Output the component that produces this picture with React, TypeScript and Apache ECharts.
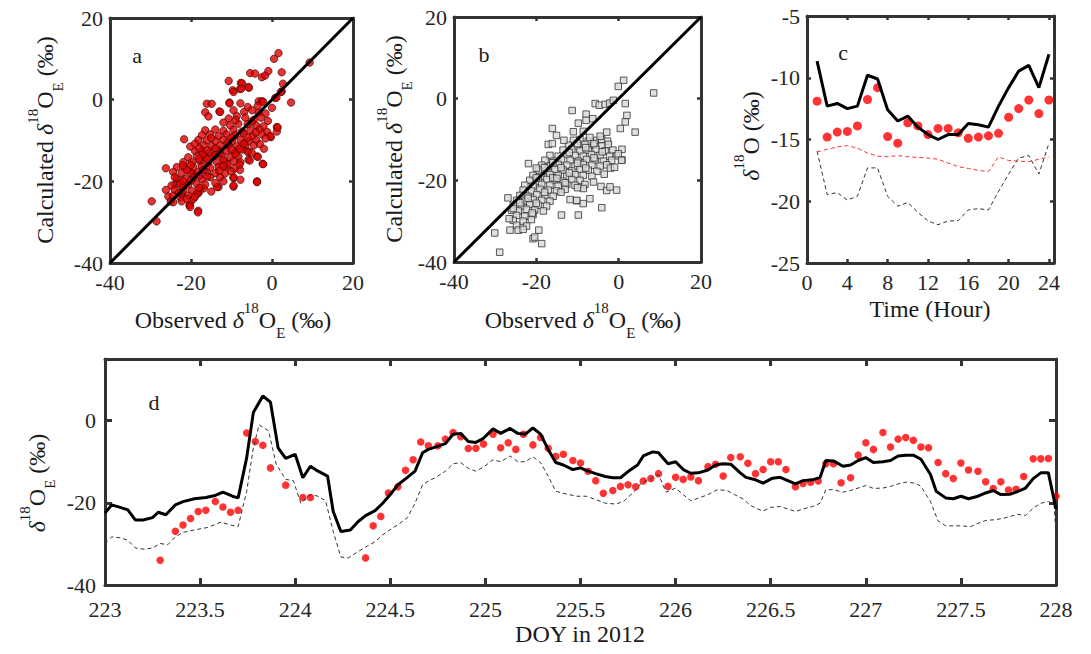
import React, { useEffect, useRef } from "react";
import * as echarts from "echarts";

const SERIF = "Liberation Serif";

// ---------- Panel a: observed vs calculated (model 1) ----------
const scatterA: number[][] = [
  [-29.7,-24.9],[-28.5,-29.8],[-26.2,-16.8],[-26.2,-22.1],[-25.6,-23.7],[-25.0,-24.9],[-23.9,-20.8],[-22.3,-22.9],[-21.7,-9.7],[-20.4,-25.9],
  [-18.2,-27.2],[-16.1,-1.0],[-14.9,-1.0],[-16.5,-3.1],[-15.7,-4.1],[-13.0,-2.9],[-10.7,4.6],[-10.5,-0.7],[-9.5,-19.2],[-9.5,-21.3],
  [-9.7,2.3],[-7.7,4.1],[-7.9,2.6],[-5.8,3.1],[-5.4,6.5],[-4.2,6.4],[-5.8,-12.7],[-5.8,-14.7],[-3.7,-20.0],[-3.7,-13.9],
  [-3.3,-0.4],[-2.5,5.5],[-1.7,5.9],[-0.9,7.0],[-2.3,-15.7],[-0.3,-9.2],[1.2,-6.7],[1.2,-7.8],[0.5,10.0],[1.6,11.4],
  [2.4,6.7],[2.4,2.0],[2.7,3.9],[0.8,0.4],[4.7,-0.7],[9.3,9.1],[-13.2,-21.4],[-16.8,-21.7],[-18.2,-22.9],[-19.6,-18.0],
  [-7.9,-17.2],[-7.4,4.0],[-9.5,1.9],[-7.6,2.7],[-5.7,2.9],[2.2,1.9],[1.1,0.5],[-2.5,-0.4],
  [-10.5,-0.9],[-7.8,-0.9],[-6.0,-1.8],[-3.5,-1.5],[-2.2,-0.5],
  [-12.8,-3.0],[-9.5,-2.6],[-6.9,-3.0],[-4.9,-2.6],[-3.3,-3.2],[-1.6,-3.4],
  [-10.7,-4.6],[-8.7,-4.0],[-6.6,-4.4],[-4.5,-4.9],[-2.7,-4.4],
  [-10.3,-6.3],[-8.3,-5.9],[-6.0,-6.0],[-3.9,-6.3],[-2.1,-6.5],
  [-16.5,-7.5],[-14.0,-7.3],[-12.0,-7.6],[-9.5,-7.4],[-7.4,-7.8],[-5.4,-7.5],[-3.1,-7.3],[-1.2,-7.9],[1.4,-6.8],
  [-17.3,-8.7],[-15.3,-8.5],[-13.2,-8.9],[-11.2,-8.5],[-9.1,-8.7],[-7.0,-8.3],[-4.7,-8.9],[-2.5,-8.5],[-0.4,-8.9],
  [-18.2,-9.9],[-16.1,-10.0],[-14.0,-10.1],[-12.0,-9.8],[-9.9,-10.1],[-7.8,-9.8],[-5.8,-10.2],[-3.9,-9.9],[-1.6,-9.5],
  [-20.2,-11.5],[-16.9,-11.2],[-14.9,-11.4],[-12.8,-11.2],[-10.7,-11.2],[-8.7,-11.4],[-6.6,-11.2],[-4.5,-11.2],
  [-19.0,-12.6],[-17.3,-12.6],[-15.3,-12.8],[-13.2,-12.4],[-11.2,-12.6],[-9.1,-12.8],[-7.2,-12.2],[-6.0,-12.8],
  [-20.7,-14.1],[-18.6,-13.9],[-16.5,-14.1],[-14.5,-13.9],[-12.4,-13.7],[-10.3,-14.1],[-8.3,-13.9],[-5.5,-14.9],[-3.5,-14.0],
  [-21.9,-15.3],[-19.8,-15.3],[-17.8,-15.1],[-15.7,-15.5],[-13.6,-15.3],[-11.6,-15.3],[-9.5,-15.1],[-7.8,-15.3],[-2.2,-15.8],
  [-23.5,-16.5],[-21.5,-16.7],[-19.4,-16.5],[-17.3,-16.3],[-15.3,-16.7],[-13.2,-16.5],[-11.2,-16.5],[-9.3,-16.9],
  [-24.4,-17.7],[-22.3,-18.0],[-20.2,-18.0],[-18.2,-17.7],[-16.1,-17.7],[-14.0,-18.0],[-11.6,-18.1],[-9.5,-19.0],
  [-23.5,-19.4],[-21.5,-19.4],[-19.4,-19.1],[-17.3,-19.4],[-15.3,-19.0],[-12.8,-19.0],[-7.8,-19.6],[-3.7,-20.2],
  [-24.8,-21.0],[-22.7,-20.6],[-20.7,-20.8],[-18.6,-20.6],[-16.5,-20.8],[-9.5,-21.0],
  [-24.0,-22.1],[-21.9,-22.1],[-19.8,-22.3],[-17.8,-22.3],[-13.6,-21.4],
  [-24.4,-23.5],[-22.7,-23.9],[-20.7,-23.5],[-18.6,-23.1],
  [-24.4,-25.1],[-22.3,-24.9],[-20.2,-25.5],[-19.4,-24.3],[-20.2,-26.3],[-18.3,-27.6],
  [-19,-10.8],[-15,-9.4],[-11,-10.6],[-7,-10.8],[-3,-10.9],[-17,-13.3],[-13,-13.1],[-9,-13.3],[-5,-13.0],[-21,-17.2],
  [-17,-17.2],[-13,-17.4],[-10,-17.6],[-22,-21.3],[-18,-21.6],[-14,-20.4],[-12,-20.0],[-23,-22.8],[-19,-23.8],[-16,-14.6],
  [-12,-14.8],[-8,-12.0],[-4,-8.0],[-6,-9.3],[-10,-9.3],[-14,-12.0],[-18,-14.5],[-20,-16.0],[-16,-18.8],[-22,-19.9],
  [-21,-24.3],[-15,-22.5],[-11,-15.9],[-2,-12.0],[-1,-5.2],[0,-2.0],[-5,-5.4],[-9,-5.0],[-12,-5.6],
  [-18,-11.9],[-14,-13.6],[-10,-12.2],[-16,-12.4],[-12,-16.2],[-8,-15.9],[-20,-19.8],[-18,-18.6],[-22,-16.1],[-24,-19.0]
];

// ---------- Panel b: observed vs calculated (model 2) ----------
const scatterB: number[][] = [
  [-11.0,-10.2],[-9.4,-10.0],[-7.4,-10.4],[-5.3,-10.2],[-4.1,-10.0],[-2.7,-10.4],
  [-12.2,-11.4],[-10.2,-11.6],[-8.2,-11.2],[-6.1,-11.4],[-4.1,-11.6],[-2.5,-11.2],
  [-13.5,-12.6],[-11.4,-12.4],[-9.4,-12.8],[-7.4,-12.6],[-5.5,-12.4],[-3.3,-12.8],[-1.4,-12.6],[0.8,-12.4],
  [-16.7,-13.9],[-14.7,-14.1],[-12.6,-13.7],[-10.6,-13.9],[-8.6,-14.1],[-6.6,-13.7],[-4.5,-13.9],[-2.2,-14.1],[-0.5,-14.0],
  [-17.9,-15.1],[-15.9,-15.3],[-13.9,-14.9],[-11.8,-15.1],[-9.8,-15.3],[-7.8,-14.9],[-5.7,-15.1],[-3.7,-15.3],[-1.7,-15.1],[0.8,-15.0],
  [-18.7,-16.3],[-16.7,-16.5],[-14.7,-16.1],[-12.6,-16.3],[-10.6,-16.5],[-8.6,-16.1],[-6.5,-16.3],[-4.5,-16.5],[-2.9,-16.2],
  [-19.5,-17.5],[-17.5,-17.7],[-15.5,-17.3],[-13.5,-17.5],[-11.4,-17.7],[-9.4,-17.3],[-7.4,-17.5],[-5.3,-17.8],
  [-20.8,-18.8],[-18.7,-19.0],[-16.7,-18.6],[-14.7,-18.8],[-12.6,-19.0],[-10.6,-18.6],[-8.6,-18.8],[-6.5,-19.0],
  [-21.6,-20.0],[-19.5,-20.2],[-17.5,-19.8],[-15.5,-20.0],[-13.5,-20.2],[-11.4,-19.8],[-9.4,-20.0],[-6.1,-20.4],
  [-22.8,-21.2],[-20.8,-21.4],[-18.7,-21.0],[-16.7,-21.2],[-14.7,-21.4],[-12.6,-21.0],[-10.6,-21.2],[-8.2,-21.0],[-4.3,-21.5],[-2.9,-22.5],
  [-23.2,-22.4],[-21.2,-22.6],[-19.1,-22.2],[-17.1,-22.4],[-15.1,-22.6],[-13.0,-22.2],[-8.6,-22.0],
  [-24.0,-23.7],[-22.0,-23.9],[-19.9,-23.5],[-17.9,-23.7],[-15.9,-23.9],[-11.8,-24.7],[-10.2,-25.0],
  [-24.8,-24.9],[-22.8,-25.1],[-20.8,-24.7],[-18.7,-24.9],[-16.7,-25.1],[-8.6,-25.7],
  [-25.6,-26.1],[-23.6,-26.3],[-21.6,-25.9],[-19.5,-26.1],[-17.5,-26.3],[-13.9,-28.5],[-9.8,-28.5],[-4.1,-26.7],
  [-26.0,-27.3],[-24.4,-27.5],[-22.4,-27.1],[-20.4,-27.3],[-18.3,-27.5],
  [-24.8,-28.6],[-22.8,-28.8],[-20.8,-28.4],[-25.6,-29.8],[-23.2,-30.0],[-21.2,-29.6],
  [-24.8,-31.0],[-22.4,-31.2],[-24.4,-32.2],[-23.2,-32.0],[-20.8,-34.3],[-18.7,-35.5],
  [1.2,4.5],[-0.1,3.0],[8.5,1.4],[-5.7,-1.2],[-4.7,-1.6],[-3.3,-1.4],[-2.2,-1.1],[-1.3,-0.4],[1.6,-1.2],[2.0,-4.1],
  [1.6,-5.7],[0.4,-7.3],[4.0,-8.2],[-11.3,-2.9],[-7.9,-3.8],[-6.3,-4.9],[-9.8,-6.0],[-7.9,-5.3],[-16.1,-7.3],[-15.1,-9.0],
  [-11.0,-8.1],[-8.6,-8.0],[-13.3,-10.2],[-17.1,-11.2],[-16.1,-11.0],[-2.9,-8.2],[-7.0,-9.5],[-4.5,-9.2],[-21.9,-15.9],
  [-30.1,-32.9],[-28.9,-37.6],[-26.9,-24.3],[-26.6,-29.4],[-26.4,-32.2],[-25.6,-26.9],[-20.4,-33.9],[-19.4,-32.2],
  [-10.2,-24.9],[-7.0,-24.5],[-0.5,-22.4],[-2.1,-21.6],[-0.1,-13.5],[0.7,-15.1],[-2.0,-17.0],[-1.0,-16.8],[-3.5,-18.5],
  [-20,-19.4],[-16,-19.4],[-12,-18.2],[-8,-17.0],[-18,-22.9],[-14,-22.9],[-22,-24.4],[-20,-25.6],[-18,-16.9],[-14,-16.9],
  [-10,-15.8],[-6,-14.5],[-12,-13.2],[-8,-12.0],[-4,-13.0],[-16,-15.7],[-20,-17.0],[-24,-25.5],[-21,-28.0],[-13,-20.6],
  [-10,-21.8],[-6,-11.0],[-10,-11.0],[-15,-19.5]
];
const oneToOne: number[][] = [[-40,-40],[20,20]];

// ---------- Panel c: diurnal composite ----------
const cHours = [1,2,3,4,5,6,7,8,9,10,11,12,13,14,15,16,17,18,19,20,21,22,23,24];
const cCalculated = [-8.65,-12.3,-12.08,-12.5,-12.3,-9.8,-10.1,-12.6,-13.5,-13.1,-14.0,-14.6,-15.0,-14.6,-14.6,-13.7,-13.8,-14.0,-12.3,-10.8,-9.46,-9.0,-10.8,-8.1];
const cObserved = [-11.9,-14.8,-14.4,-14.35,-13.9,-11.76,-10.8,-14.76,-15.3,-13.65,-13.9,-14.6,-14.1,-14.1,-14.46,-14.9,-14.8,-14.7,-14.5,-13.2,-12.5,-11.8,-12.9,-11.8];
const cRedDashed = [-16.0,-15.8,-15.6,-15.5,-15.7,-16.1,-16.35,-16.4,-16.3,-16.4,-16.45,-16.5,-16.6,-16.9,-17.2,-17.35,-17.5,-17.6,-16.4,-16.7,-16.75,-16.8,-16.6,-16.4];
const cBlackDashed = [-15.95,-19.46,-19.3,-19.9,-19.6,-17.3,-17.3,-19.6,-20.4,-20.1,-20.9,-21.6,-21.9,-21.6,-21.57,-20.7,-20.6,-20.7,-19.2,-17.8,-16.5,-16.3,-17.8,-15.3];
const cTicks = [0,4,8,12,16,20,24];

// ---------- Panel d: time series ----------
const dCalculated: number[][] = [
  [223.0,-22.5],[223.035,-20.5],[223.08,-21.1],[223.12,-21.7],[223.16,-24.2],[223.2,-24.2],[223.25,-23.6],[223.28,-22.3],[223.32,-22.9],[223.37,-20.5],
  [223.41,-19.7],[223.47,-19.0],[223.53,-18.7],[223.58,-18.2],[223.62,-17.4],[223.67,-18.4],[223.70,-18.8],[223.745,-9.0],[223.78,2.0],[223.83,6.0],
  [223.87,4.5],[223.91,-6.6],[223.95,-9.2],[224.0,-8.2],[224.04,-13.9],[224.08,-11.1],[224.12,-12.3],[224.17,-13.5],[224.2,-22.1],[224.24,-27.0],
  [224.29,-26.6],[224.33,-24.6],[224.37,-23.1],[224.42,-21.9],[224.46,-20.1],[224.5,-18.0],[224.54,-15.6],[224.59,-13.8],[224.63,-12.3],[224.67,-7.8],
  [224.70,-7.0],[224.74,-6.4],[224.79,-5.6],[224.83,-3.3],[224.87,-3.1],[224.91,-5.1],[224.95,-5.3],[224.99,-4.3],[225.04,-2.0],[225.08,-3.1],
  [225.13,-1.9],[225.17,-3.1],[225.21,-3.3],[225.25,-1.8],[225.29,-3.3],[225.33,-7.0],[225.37,-10.2],[225.41,-10.8],[225.46,-11.9],[225.5,-11.5],
  [225.54,-12.3],[225.58,-12.9],[225.63,-13.6],[225.67,-13.9],[225.71,-13.9],[225.75,-12.4],[225.80,-10.8],[225.83,-8.6],[225.88,-7.6],[225.91,-7.8],
  [225.96,-10.5],[226.0,-10.0],[226.04,-11.9],[226.08,-12.8],[226.12,-12.7],[226.17,-12.0],[226.21,-10.8],[226.25,-10.5],[226.29,-10.6],[226.34,-12.7],
  [226.37,-13.8],[226.42,-14.4],[226.46,-15.2],[226.51,-14.0],[226.55,-13.8],[226.59,-14.6],[226.63,-15.4],[226.67,-14.6],[226.72,-14.4],[226.76,-13.8],
  [226.79,-9.7],[226.83,-9.8],[226.88,-11.1],[226.92,-10.8],[226.96,-9.7],[227.0,-9.0],[227.04,-10.2],[227.09,-10.0],[227.13,-9.7],[227.17,-8.6],
  [227.21,-8.4],[227.25,-8.4],[227.29,-9.4],[227.34,-13.1],[227.37,-17.2],[227.42,-18.8],[227.46,-19.0],[227.5,-18.4],[227.54,-19.0],[227.59,-18.4],
  [227.63,-17.6],[227.67,-17.0],[227.71,-18.0],[227.76,-17.9],[227.80,-17.2],[227.84,-16.4],[227.88,-14.1],[227.92,-12.7],[227.96,-12.7],[228.0,-21.5]
];
const dDashed: number[][] = [
  [223.0,-29.9],[223.035,-28.3],[223.08,-28.5],[223.12,-29.1],[223.16,-31.0],[223.21,-31.3],[223.25,-31.0],[223.29,-29.9],[223.33,-30.2],[223.37,-28.3],
  [223.41,-27.2],[223.47,-26.6],[223.54,-26.0],[223.61,-24.7],[223.66,-25.4],[223.70,-25.8],[223.745,-17.2],[223.78,-6.6],[223.81,-1.0],[223.86,-2.5],
  [223.90,-10.6],[223.95,-14.3],[223.99,-14.6],[224.03,-20.1],[224.08,-18.0],[224.12,-18.4],[224.16,-19.5],[224.2,-27.0],[224.24,-33.2],[224.28,-33.4],
  [224.33,-31.9],[224.38,-30.5],[224.42,-29.5],[224.46,-27.8],[224.51,-26.2],[224.55,-25.0],[224.59,-23.6],[224.63,-20.1],[224.67,-15.6],[224.70,-14.7],
  [224.74,-13.8],[224.79,-12.3],[224.83,-10.5],[224.87,-10.2],[224.91,-11.6],[224.95,-12.3],[224.99,-11.3],[225.04,-9.5],[225.08,-10.0],[225.13,-8.6],
  [225.17,-10.0],[225.21,-10.0],[225.25,-8.8],[225.29,-10.2],[225.33,-13.5],[225.37,-17.2],[225.43,-17.9],[225.48,-18.4],[225.53,-18.4],[225.58,-19.2],
  [225.63,-20.1],[225.69,-20.3],[225.73,-19.5],[225.78,-17.4],[225.82,-15.2],[225.87,-14.1],[225.91,-13.1],[225.95,-17.4],[226.0,-16.4],[226.04,-18.0],
  [226.08,-19.5],[226.13,-18.7],[226.17,-18.0],[226.22,-16.8],[226.27,-17.0],[226.31,-18.0],[226.36,-19.2],[226.39,-20.5],[226.42,-21.3],[226.46,-22.0],
  [226.5,-21.1],[226.55,-20.9],[226.59,-21.5],[226.63,-22.1],[226.67,-21.5],[226.72,-20.9],[226.76,-20.1],[226.79,-16.8],[226.83,-16.8],[226.88,-17.4],
  [226.92,-17.0],[226.96,-16.4],[227.0,-15.8],[227.04,-16.5],[227.09,-16.4],[227.13,-16.0],[227.17,-15.4],[227.21,-15.0],[227.26,-15.2],[227.29,-16.0],
  [227.34,-19.7],[227.38,-24.4],[227.42,-25.6],[227.46,-25.6],[227.50,-25.6],[227.55,-25.8],[227.59,-25.0],[227.63,-24.3],[227.68,-24.1],[227.72,-23.8],
  [227.76,-23.3],[227.80,-22.8],[227.84,-23.1],[227.88,-21.3],[227.92,-20.1],[227.96,-19.7],[227.99,-20.5],[228.0,-27.8]
];
const dObserved: number[][] = [
  [223.29,-34.0],[223.37,-26.9],[223.41,-25.4],[223.45,-23.8],[223.49,-22.1],[223.53,-21.8],[223.58,-19.7],[223.62,-21.0],[223.66,-22.3],[223.70,-21.8],
  [223.745,-3.0],[223.79,-5.1],[223.83,-6.0],[223.87,-11.5],[223.95,-15.7],[224.04,-18.7],[224.08,-18.7],[224.37,-33.4],[224.41,-25.6],[224.45,-23.3],
  [224.49,-17.6],[224.54,-16.1],[224.58,-12.1],[224.62,-9.5],[224.66,-5.2],[224.70,-6.1],[224.75,-6.1],[224.79,-4.5],[224.83,-2.9],[224.87,-3.9],
  [224.91,-6.8],[224.95,-6.7],[224.99,-5.7],[225.04,-3.3],[225.08,-6.6],[225.12,-5.4],[225.16,-7.0],[225.20,-3.3],[225.25,-5.9],[225.29,-4.1],
  [225.33,-6.7],[225.37,-8.7],[225.41,-8.2],[225.46,-9.7],[225.50,-10.3],[225.54,-12.3],[225.58,-14.6],[225.62,-17.7],[225.67,-17.0],[225.71,-16.0],
  [225.75,-15.6],[225.79,-16.1],[225.83,-14.7],[225.87,-14.1],[225.91,-12.9],[225.96,-16.0],[226.0,-13.8],[226.04,-14.3],[226.08,-13.7],[226.12,-14.6],
  [226.17,-11.2],[226.21,-10.6],[226.25,-13.5],[226.29,-9.0],[226.34,-8.8],[226.38,-10.4],[226.42,-12.9],[226.46,-11.9],[226.50,-10.0],[226.54,-10.0],
  [226.58,-11.9],[226.63,-16.1],[226.67,-15.3],[226.71,-15.0],[226.75,-14.7],[226.79,-10.5],[226.83,-10.5],[226.87,-15.1],[226.92,-13.9],[226.96,-8.4],
  [227.0,-5.4],[227.04,-7.0],[227.09,-2.9],[227.13,-6.4],[227.17,-4.5],[227.21,-4.1],[227.25,-4.8],[227.29,-6.4],[227.33,-6.6],[227.38,-10.2],
  [227.42,-12.9],[227.46,-14.1],[227.50,-10.3],[227.54,-12.0],[227.59,-12.3],[227.63,-14.9],[227.67,-16.5],[227.71,-14.9],[227.75,-16.9],[227.79,-16.7],
  [227.83,-13.6],[227.88,-9.3],[227.92,-9.3],[227.96,-9.2],[228.0,-18.4]
];
const dYTicks = [-40,-20,0];

const FRAME = "#333333";
const LABEL = "#262626";

function axes(g: number, o: any) {
  const frame = { show: true, onZero: false, lineStyle: { color: FRAME, width: 3 } };
  const mk = (dim: "x" | "y", pos: string, showLabel: boolean) => {
    const c = dim === "x" ? o.x : o.y;
    const tick: any = { show: true, inside: true, length: o.tickLen, lineStyle: { color: FRAME, width: o.tickW } };
    const label: any = {
      show: showLabel, fontFamily: SERIF, fontSize: 22, color: LABEL,
      margin: dim === "x" ? o.xMargin : o.yMargin,
      showMinLabel: true, showMaxLabel: true,
    };
    if (c.custom) { tick.customValues = c.custom; label.customValues = c.custom; }
    const ax: any = {
      type: "value", gridIndex: g, position: pos, min: c.min, max: c.max,
      axisLine: frame, axisTick: tick, axisLabel: label, splitLine: { show: false },
    };
    if (c.interval !== undefined) ax.interval = c.interval;
    return ax;
  };
  return {
    x: [mk("x", "bottom", true), mk("x", "top", false)],
    y: [mk("y", "left", true), mk("y", "right", false)],
  };
}

const rich = {
  m: { fontFamily: SERIF, fontSize: 24, lineHeight: 40, fill: "#1a1a1a" },
  i: { fontFamily: SERIF, fontSize: 24, fontStyle: "italic", lineHeight: 40, fill: "#1a1a1a" },
  s: { fontFamily: SERIF, fontSize: 15, lineHeight: 32, verticalAlign: "top", fill: "#1a1a1a" },
  b: { fontFamily: SERIF, fontSize: 15, lineHeight: 15, verticalAlign: "bottom", fill: "#1a1a1a" },
};

function nameText(text: string, x: number, y: number, rotated: boolean) {
  return {
    type: "text", x, y, rotation: rotated ? Math.PI / 2 : 0, silent: true,
    style: { text, rich, align: "center", verticalAlign: "middle", fontFamily: SERIF, fontSize: 24, fill: "#1a1a1a" },
  };
}
function panelLetter(text: string, x: number, y: number) {
  return {
    type: "text", x, y, silent: true,
    style: { text, align: "center", verticalAlign: "middle", fontFamily: SERIF, fontSize: 22, fill: "#1a1a1a" },
  };
}

export default function App() {
  const ref = useRef<HTMLDivElement>(null);
  useEffect(() => {
    if (!ref.current) return;
    const chart = echarts.init(ref.current, null, { renderer: "svg" });

    const sq = { tickLen: 4, tickW: 2.5, xMargin: 8, yMargin: 7 };
    const A = axes(0, { ...sq, x: { min: -40, max: 20, interval: 20 }, y: { min: -40, max: 20, interval: 20 } });
    const B = axes(1, { ...sq, x: { min: -40, max: 20, interval: 20 }, y: { min: -40, max: 20, interval: 20 } });
    const C = axes(2, { ...sq, x: { min: 0, max: 24.5, custom: cTicks }, y: { min: -25, max: -5, interval: 5 } });
    const D = axes(3, { tickLen: 7, tickW: 3, xMargin: 13, yMargin: 9,
      x: { min: 223, max: 228, interval: 0.5 }, y: { min: -40, max: 15, custom: dYTicks } });

    const hourPairs = (vals: number[]) => cHours.map((h, i) => [h, vals[i]]);

    const option: any = {
      animation: false,
      backgroundColor: "#ffffff",
      grid: [
        { left: 110, top: 18, width: 243, height: 245 },
        { left: 454, top: 17, width: 247, height: 245 },
        { left: 807, top: 16, width: 247, height: 247 },
        { left: 105, top: 359, width: 951, height: 226 },
      ],
      xAxis: [...A.x, ...B.x, ...C.x, ...D.x],
      yAxis: [...A.y, ...B.y, ...C.y, ...D.y],
      series: [
        { type: "line", xAxisIndex: 0, yAxisIndex: 0, data: oneToOne, symbol: "none",
          lineStyle: { color: "#000", width: 3 } },
        { type: "scatter", xAxisIndex: 0, yAxisIndex: 0, data: scatterA, symbol: "circle", symbolSize: 7.5,
          itemStyle: { color: "#e00000", borderColor: "#3a0000", borderWidth: 0.8 } },
        { type: "scatter", xAxisIndex: 2, yAxisIndex: 2, data: scatterB, symbol: "rect", symbolSize: 6.5,
          itemStyle: { color: "#d8d8d8", borderColor: "#333", borderWidth: 1 } },
        { type: "line", xAxisIndex: 2, yAxisIndex: 2, data: oneToOne, symbol: "none",
          lineStyle: { color: "#000", width: 3 } },
        { type: "line", xAxisIndex: 4, yAxisIndex: 4, data: hourPairs(cBlackDashed), symbol: "none",
          lineStyle: { color: "#333", width: 1, type: [4, 3] } },
        { type: "line", xAxisIndex: 4, yAxisIndex: 4, data: hourPairs(cRedDashed), symbol: "none",
          lineStyle: { color: "#ff3030", width: 1, type: [4, 3] } },
        { type: "line", xAxisIndex: 4, yAxisIndex: 4, data: hourPairs(cCalculated), symbol: "none",
          lineStyle: { color: "#000", width: 3 } },
        { type: "scatter", xAxisIndex: 4, yAxisIndex: 4, data: hourPairs(cObserved), symbol: "circle", symbolSize: 9,
          itemStyle: { color: "#ff0000" } },
        { type: "line", xAxisIndex: 6, yAxisIndex: 6, data: dDashed, symbol: "none",
          lineStyle: { color: "#333", width: 1, type: [4, 3] } },
        { type: "line", xAxisIndex: 6, yAxisIndex: 6, data: dCalculated, symbol: "none",
          lineStyle: { color: "#000", width: 3 } },
        { type: "scatter", xAxisIndex: 6, yAxisIndex: 6, data: dObserved, symbol: "circle", symbolSize: 7.5,
          itemStyle: { color: "#ff0000" } },
      ],
      graphic: [
        nameText("{m|Calculated }{i|δ}{s|18}{m|O}{b|E}{m| (‰)}", 45, 140, true),
        nameText("{m|Observed }{i|δ}{s|18}{m|O}{b|E}{m| (‰)}", 233, 320, false),
        nameText("{m|Calculated }{i|δ}{s|18}{m|O}{b|E}{m| (‰)}", 394, 139, true),
        nameText("{m|Observed }{i|δ}{s|18}{m|O}{b|E}{m| (‰)}", 583, 320, false),
        nameText("{i|δ}{s|18}{m|O (‰)}", 751, 136, true),
        nameText("{m|Time (Hour)}", 930, 309, false),
        nameText("{i|δ}{s|18}{m|O}{b|E}{m| (‰)}", 37, 483, true),
        nameText("{m|DOY in 2012}", 580, 634, false),
        panelLetter("a", 137, 55),
        panelLetter("b", 484, 54),
        panelLetter("c", 843, 52),
        panelLetter("d", 154, 402),
      ],
    };
    chart.setOption(option);
    return () => chart.dispose();
  }, []);
  return (
    <div
      ref={ref}
      style={{ position: "absolute", left: 0, top: 0, width: 1091, height: 654, background: "#fff" }}
    />
  );
}
